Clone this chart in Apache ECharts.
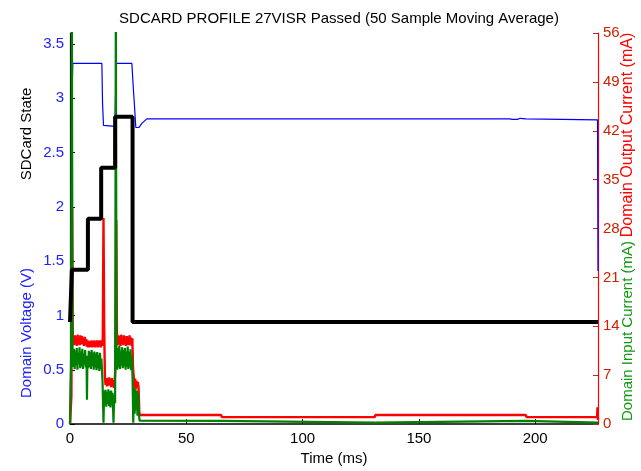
<!DOCTYPE html>
<html>
<head>
<meta charset="utf-8">
<script src="https://cdn.jsdelivr.net/npm/echarts@6/dist/echarts.min.js"></script>
<style>
  html, body { margin: 0; padding: 0; background: #fff; }
  #chart { width: 641px; height: 471px; }
</style>
</head>
<body>
<div id="chart"></div>
<script>
// tick labels
const timeTicks = [0, 50, 100, 150, 200]
const voltTicks = [0, 0.5, 1, 1.5, 2, 2.5, 3, 3.5]
const currentTicks = [0, 7, 14, 21, 28, 35, 42, 49, 56]

// Domain voltage (V), [time ms, value]
const domainVoltage = [
  [0, 0], [0.3, 0.6], [0.7, 2.9], [1.2, 3.32], [13.7, 3.32], [14.0, 2.95], [14.4, 2.75],
  [19.3, 2.74], [19.6, 3.05], [19.9, 3.32], [26.6, 3.32], [27.2, 3.1], [27.7, 2.94],
  [28.3, 2.73], [29.6, 2.73], [31.0, 2.77], [33.0, 2.81], [65.4, 2.81], [65.7, 2.80],
  [66.0, 2.815], [66.4, 2.81], [189.0, 2.81], [189.5, 2.815], [190.2, 2.805],
  [191.0, 2.815], [192.4, 2.805], [193.5, 2.815], [195.9, 2.81], [196.3, 2.80],
  [226.8, 2.80], [227.0, 1.41]
]

// SDCard state (left axis), step line
const sdcardState = [
  [0, 0.94], [0.8, 0.94], [0.8, 1.42], [7.7, 1.42], [7.7, 1.89], [13.4, 1.89],
  [13.4, 2.36], [19.4, 2.36], [19.4, 2.83], [26.9, 2.83], [26.9, 0.94], [227, 0.94]
]

// Domain output current (mA)
const outputCurrent = [
  [0, 0], [0.6, 4], [0.9, 31], [1.2, 12.2], [1.5, 12.6], [1.8, 11.3], [2.1, 12.7], [2.4, 11.5],
  [2.7, 12.5], [3.0, 11.2], [3.3, 12.8], [3.6, 11.6], [3.9, 12.4], [4.2, 11.3], [4.5, 12.7],
  [4.8, 11.5], [5.1, 12.6], [5.4, 11.4], [5.7, 12.3], [6.0, 11.2], [6.3, 12.5], [6.6, 11.6],
  [6.9, 12.2], [7.2, 11.1], [7.5, 12.0], [7.8, 11.0], [8.1, 11.9], [8.4, 11.0], [8.7, 11.8],
  [9.0, 11.1], [9.3, 12.0], [9.6, 11.0], [9.9, 11.8], [10.2, 11.1], [10.5, 12.0], [10.8, 11.0],
  [11.1, 11.8], [11.4, 11.1], [11.7, 12.0], [12.0, 11.0], [12.3, 11.9], [12.6, 11.2], [12.9, 12.0],
  [13.2, 11.0], [13.5, 11.8], [13.8, 11.2], [14.1, 12.4], [14.4, 29.5], [14.7, 14.0], [15.0, 6.8],
  [15.3, 5.6], [15.6, 6.6], [15.9, 5.4], [16.2, 6.5], [16.5, 5.5], [16.8, 6.7], [17.1, 5.6],
  [17.4, 6.4], [17.7, 5.3], [18.0, 6.6], [18.3, 5.5], [18.6, 6.3], [18.9, 5.2], [19.2, 6.0],
  [19.5, 8.0], [19.9, 29.2], [20.2, 12.5], [20.5, 11.3], [20.8, 12.7], [21.1, 11.4], [21.4, 12.6],
  [21.7, 11.2], [22.0, 12.8], [22.3, 11.5], [22.6, 12.5], [22.9, 11.3], [23.2, 12.7], [23.5, 11.6],
  [23.8, 12.4], [24.1, 11.2], [24.4, 12.6], [24.7, 11.4], [25.0, 12.5], [25.3, 11.3], [25.6, 12.7],
  [25.9, 11.5], [26.2, 12.4], [26.5, 11.2], [26.8, 12.3], [27.1, 8.0], [27.4, 6.8], [27.7, 5.2],
  [28.0, 6.5], [28.3, 5.0], [28.6, 6.2], [28.9, 5.3], [29.2, 6.0], [29.5, 5.1], [29.8, 1.6],
  [30.2, 1.3], [65.0, 1.3], [65.3, 1.0], [131.0, 1.0], [131.3, 1.3], [196.0, 1.3], [196.3, 1.0],
  [226.6, 1.0], [226.8, 2.4], [227.0, 0.6]
]

// Domain input current (mA)
const inputCurrent = [
  [0, 0], [0.5, 10], [0.8, 60], [1.1, 9.5], [1.4, 8.2], [1.7, 10.8], [2.0, 7.9], [2.3, 10.5],
  [2.6, 8.4], [2.9, 10.9], [3.2, 7.8], [3.5, 10.2], [3.8, 8.6], [4.1, 11.0], [4.4, 8.0],
  [4.7, 10.4], [5.0, 8.3], [5.3, 10.8], [5.6, 7.9], [5.9, 10.1], [6.2, 8.5], [6.5, 10.6],
  [6.8, 8.1], [7.1, 9.8], [7.3, 3.5], [7.5, 9.6], [7.8, 8.0], [8.1, 10.5], [8.4, 8.2],
  [8.7, 10.3], [9.0, 7.9], [9.3, 10.6], [9.6, 8.3], [9.9, 10.2], [10.2, 7.8], [10.5, 10.4],
  [10.8, 8.1], [11.1, 10.1], [11.4, 7.7], [11.7, 10.3], [12.0, 8.0], [12.3, 9.9], [12.6, 7.6],
  [12.9, 10.2], [13.2, 7.9], [13.5, 9.4], [14.0, 6.0], [14.4, 0.2], [14.7, 4.8], [15.0, 2.8],
  [15.3, 4.9], [15.6, 2.5], [15.9, 4.6], [16.2, 2.9], [16.5, 5.0], [16.8, 2.6], [17.1, 4.7],
  [17.4, 2.4], [17.7, 4.8], [18.0, 2.7], [18.3, 4.5], [18.7, 0.2], [19.0, 4.2], [19.4, 3.0],
  [19.7, 60], [20.0, 9.2], [20.3, 7.8], [20.6, 10.9], [20.9, 8.1], [21.2, 11.2], [21.5, 7.9],
  [21.8, 10.5], [22.1, 8.4], [22.4, 11.0], [22.7, 8.0], [23.0, 10.6], [23.3, 8.3], [23.6, 10.9],
  [23.9, 7.8], [24.2, 10.4], [24.5, 8.2], [24.8, 11.1], [25.1, 7.9], [25.4, 10.3], [25.7, 8.1],
  [26.0, 10.7], [26.3, 7.7], [26.6, 9.8], [26.9, 6.5], [27.2, 0.2], [27.5, 5.2], [27.8, 1.5],
  [28.1, 5.0], [28.4, 2.0], [28.7, 4.8], [29.0, 1.2], [29.3, 4.5], [29.6, 1.5], [29.9, 0.5],
  [30.2, 0.45], [65.0, 0.45], [65.3, 0.2], [131.0, 0.2], [131.3, 0.45], [196.0, 0.45],
  [196.3, 0.2], [227.0, 0.2]
]

const chart = echarts.init(document.getElementById('chart'))
const fontFamily = 'Liberation Sans, Arial, sans-serif'

chart.setOption({
  animation: false,
  title: {
    text: 'SDCARD PROFILE 27VISR Passed (50 Sample Moving Average)',
    left: 334,
    textAlign: 'center',
    top: 6,
    textStyle: { fontSize: 15, fontWeight: 'normal', color: '#000', fontFamily: fontFamily }
  },
  grid: { left: 70, right: 43, top: 33, bottom: 43 },
  xAxis: {
    type: 'value',
    min: 0,
    max: 227,
    name: 'Time (ms)',
    nameLocation: 'middle',
    nameGap: 25,
    nameTextStyle: { fontSize: 15, color: '#000', fontFamily: fontFamily },
    axisLine: { lineStyle: { color: '#000', width: 1.5 } },
    axisTick: { inside: true, length: 5, customValues: timeTicks, lineStyle: { color: '#000' } },
    axisLabel: { customValues: timeTicks, margin: 7, fontSize: 15, color: '#000', fontFamily: fontFamily },
    splitLine: { show: false }
  },
  yAxis: [
    {
      type: 'value',
      min: 0,
      max: 3.6,
      position: 'left',
      axisLine: { show: true, lineStyle: { color: '#000', width: 1.2 } },
      axisTick: { inside: true, length: 5, customValues: voltTicks, lineStyle: { color: '#000' } },
      axisLabel: { customValues: voltTicks, margin: 6, fontSize: 15, color: '#2020ff', fontFamily: fontFamily },
      splitLine: { show: false }
    },
    {
      type: 'value',
      min: 0,
      max: 56,
      interval: 7,
      position: 'right',
      axisLine: { show: true, lineStyle: { color: '#ff0000', width: 1.2 } },
      axisTick: { inside: true, length: 5, customValues: currentTicks, lineStyle: { color: '#b03020' } },
      axisLabel: { customValues: currentTicks, margin: 5, fontSize: 15, color: '#cc2200', fontFamily: fontFamily },
      splitLine: { show: false }
    }
  ],
  graphic: [
    { type: 'text', x: 27, y: 134, rotation: Math.PI / 2,
      style: { text: 'SDCard State', fill: '#000', font: '15px ' + fontFamily, align: 'center', verticalAlign: 'middle' } },
    { type: 'text', x: 27, y: 333, rotation: Math.PI / 2,
      style: { text: 'Domain Voltage (V)', fill: '#2020ff', font: '15px ' + fontFamily, align: 'center', verticalAlign: 'middle' } },
    { type: 'text', x: 628, y: 135, rotation: Math.PI / 2,
      style: { text: 'Domain Output Current (mA)', fill: '#ff0000', font: '16px ' + fontFamily, align: 'center', verticalAlign: 'middle' } },
    { type: 'text', x: 628, y: 331, rotation: Math.PI / 2,
      style: { text: 'Domain Input Current (mA)', fill: '#139a13', font: '15px ' + fontFamily, align: 'center', verticalAlign: 'middle' } }
  ],
  series: [
    {
      name: 'Domain Voltage', type: 'line', yAxisIndex: 0, data: domainVoltage,
      symbol: 'none', clip: true, lineStyle: { color: '#0000ff', width: 1.2 }
    },
    {
      name: 'Domain Output Current', type: 'line', yAxisIndex: 1, data: outputCurrent,
      symbol: 'none', clip: true, lineStyle: { color: '#ff0000', width: 2.4 }
    },
    {
      name: 'Domain Input Current', type: 'line', yAxisIndex: 1, data: inputCurrent,
      symbol: 'none', clip: true, lineStyle: { color: '#008000', width: 2.2 }
    },
    {
      name: 'SDCard State', type: 'line', yAxisIndex: 0, data: sdcardState,
      symbol: 'none', clip: true, lineStyle: { color: '#000', width: 4 }
    }
  ]
})
</script>
</body>
</html>
